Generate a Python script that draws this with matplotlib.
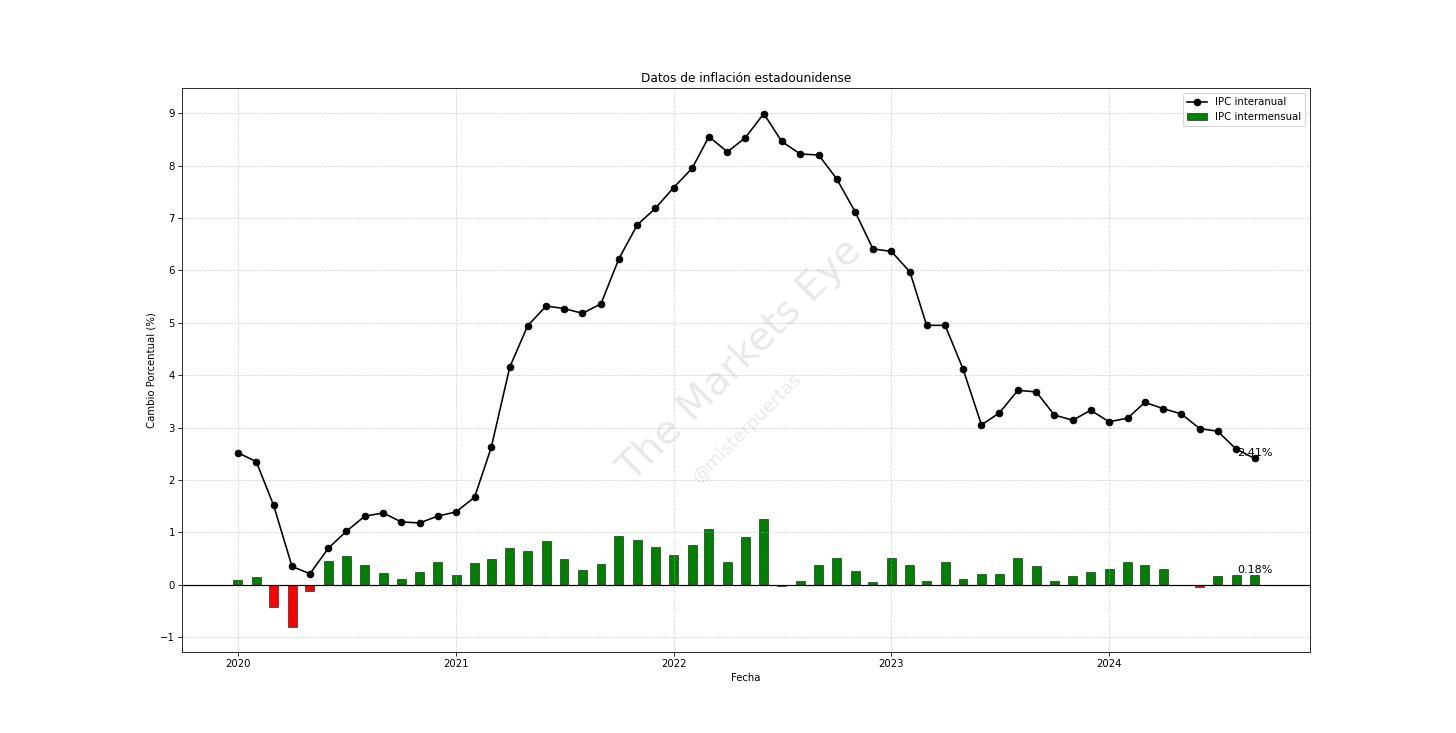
import matplotlib
matplotlib.use("Agg")
import matplotlib.pyplot as plt
import matplotlib.dates as mdates
from matplotlib.ticker import MultipleLocator
import pandas as pd

dates = pd.date_range("2020-01-01", "2024-09-01", freq="MS")

yoy = [2.52, 2.35, 1.52, 0.35, 0.21, 0.70, 1.02, 1.31, 1.37, 1.20, 1.18, 1.31,
       1.39, 1.67, 2.62, 4.15, 4.94, 5.32, 5.27, 5.18, 5.36, 6.22, 6.87, 7.18,
       7.58, 7.95, 8.55, 8.26, 8.53, 8.99, 8.46, 8.22, 8.20, 7.75, 7.12, 6.41,
       6.36, 5.97, 4.95, 4.95, 4.12, 3.05, 3.28, 3.71, 3.68, 3.24, 3.14, 3.33,
       3.11, 3.18, 3.48, 3.36, 3.26, 2.98, 2.93, 2.59, 2.41]

mom = [0.10, 0.14, -0.43, -0.80, -0.11, 0.45, 0.54, 0.37, 0.22, 0.11, 0.25, 0.43,
       0.19, 0.41, 0.50, 0.70, 0.64, 0.83, 0.50, 0.29, 0.39, 0.93, 0.85, 0.72,
       0.56, 0.76, 1.06, 0.43, 0.91, 1.25, -0.02, 0.07, 0.38, 0.51, 0.27, 0.05,
       0.51, 0.38, 0.07, 0.43, 0.11, 0.21, 0.21, 0.51, 0.35, 0.07, 0.16, 0.24,
       0.31, 0.44, 0.38, 0.31, 0.00, -0.05, 0.16, 0.18, 0.18]

fig, ax = plt.subplots(figsize=(20, 733 / 72.8), dpi=72.8)

ax.plot(dates, yoy, marker="o", markersize=6.5, linewidth=1.6, color="black",
        label="IPC interanual")
colors = ["green" if v >= 0 else "red" for v in mom]
ax.bar(dates, mom, width=15, color=colors, edgecolor="black", linewidth=0.5,
       label="IPC intermensual")
ax.axhline(0, color="black", linewidth=1.2)

ax.text(dates[-1], yoy[-1], f"{yoy[-1]:.2f}%", ha="center", va="bottom", fontsize=11)
ax.text(dates[-1], mom[-1], f"{mom[-1]:.2f}%", ha="center", va="bottom", fontsize=11)

ax.set_title("Datos de inflación estadounidense", fontsize=12)
ax.set_xlabel("Fecha")
ax.set_ylabel("Cambio Porcentual (%)")
ax.xaxis.set_major_locator(mdates.YearLocator())
ax.xaxis.set_major_formatter(mdates.DateFormatter("%Y"))
ax.yaxis.set_major_locator(MultipleLocator(1))
ax.grid(True, linestyle="--", alpha=0.5)
ax.legend(loc="upper right")

fig.text(0.508, 0.509, "The Markets Eye", fontsize=39, color="gray", alpha=0.18,
         rotation=45, ha="center", va="center")
fig.text(0.513, 0.416, "@misterpuertas", fontsize=18, color="gray", alpha=0.18,
         rotation=45, ha="center", va="center")

fig.savefig("out.png", dpi=72.8)
